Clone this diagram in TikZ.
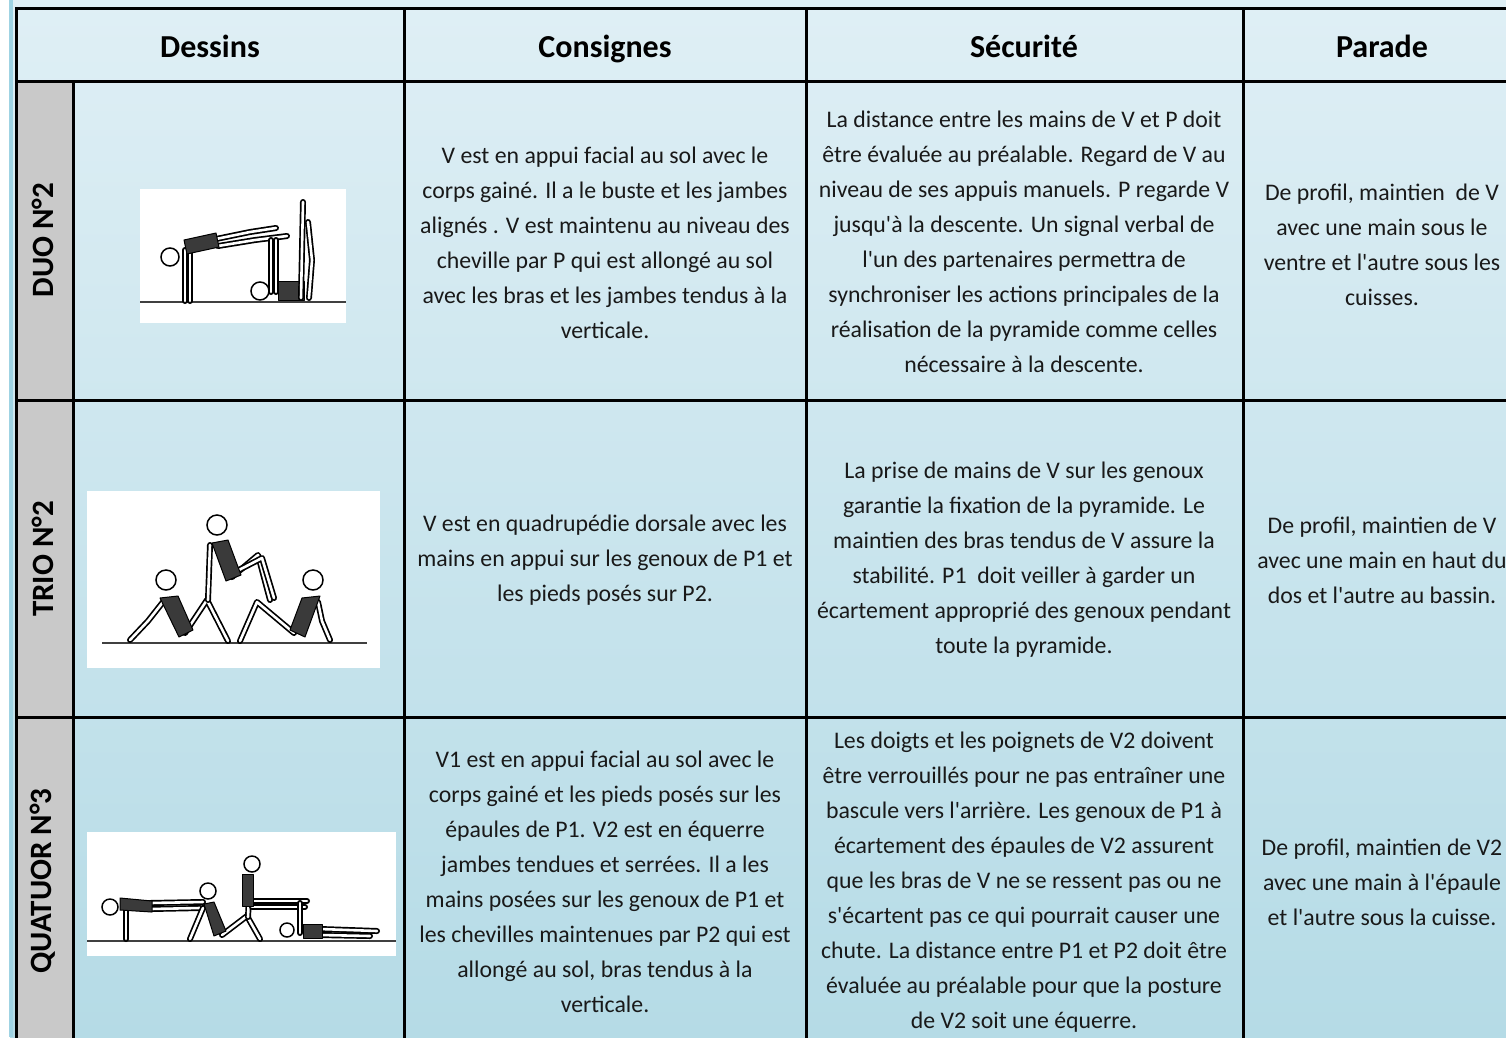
\documentclass[tikz,border=0pt]{standalone}
\usepackage{fontspec}
\setmainfont{Carlito}[Ligatures=TeXOff]
\definecolor{bgtop}{HTML}{DFEFF5}
\definecolor{bgbot}{HTML}{B5DBE6}
\definecolor{stripc}{HTML}{9FD3E3}
\definecolor{labgray}{HTML}{C9C9C9}
\definecolor{suit}{HTML}{3A3A3A}
\newcommand\lmb[1]{\draw[limbout] #1; \draw[limbin] #1;}
\tikzset{
  grid/.style={line width=3pt, black},
  body/.style={align=center, inner sep=0pt, text=black!90, font=\fontsize{23.8}{35}\selectfont},
  head/.style={anchor=base, inner sep=0pt, font=\bfseries\fontsize{32}{36}\selectfont},
  rowlab/.style={rotate=90, inner sep=0pt, font=\bfseries\fontsize{31}{36}\selectfont},
  photo/.style={fill=white, draw=none},
  ground/.style={line width=1.6pt, black!75},
  limbout/.style={line width=6pt, black, line cap=round, line join=round},
  limbin/.style={line width=2.6pt, white, line cap=round, line join=round},
  torso/.style={fill=suit, draw=black, line width=1pt, line join=round},
  headc/.style={fill=white, draw=black, line width=1.5pt}
}
\begin{document}
\begin{tikzpicture}[x=1pt,y=-1pt]
\useasboundingbox (0,0) rectangle (1506,1037);
% background
\shade[top color=bgtop, bottom color=bgbot] (10,0) rectangle (1506,1037);
\fill[stripc] (9,0) rectangle (13,1037);
\fill[labgray] (16,81) rectangle (73,1047);
% grid
\draw[grid] (16,1047) -- (16,8) -- (1530,8);
\draw[grid] (16,81) -- (1530,81);
\draw[grid] (16,400) -- (1530,400);
\draw[grid] (16,717) -- (1530,717);
\draw[grid] (73,81) -- (73,1047);
\draw[grid] (404,8) -- (404,1047);
\draw[grid] (806,8) -- (806,1047);
\draw[grid] (1243,8) -- (1243,1047);
% headers
\node[head] (h1) at (210,57) {Dessins};
\node[head] (h2) at (605,57) {Consignes};
\node[head] (h3) at (1024,57) {Sécurité};
\node[head] (h4) at (1382,57) {Parade};
% row labels
\node[rowlab] (l1) at (43,240) {DUO N°2};
\node[rowlab] (l2) at (43,559) {TRIO N°2};
\node[rowlab] (l3) at (43,881) {QUATUOR N°3};
% row 1 texts
\node[body] (c1) at (605,243) {V est en appui facial au sol avec le\\corps gainé. Il a le buste et les jambes\\alignés . V est maintenu au niveau des\\cheville par P qui est allongé au sol\\avec les bras et les jambes tendus à la\\verticale.};
\node[body] (s1) at (1024,242) {La distance entre les mains de V et P doit\\être évaluée au préalable. Regard de V au\\niveau de ses appuis manuels. P regarde V\\jusqu'à la descente. Un signal verbal de\\l'un des partenaires permettra de\\synchroniser les actions principales de la\\réalisation de la pyramide comme celles\\nécessaire à la descente.};
\node[body] (p1) at (1382,245) {De profil, maintien~ de V\\avec une main sous le\\ventre et l'autre sous les\\cuisses.};
% row 2 texts
\node[body] (c2) at (605,560) {V est en quadrupédie dorsale avec les\\mains en appui sur les genoux de P1 et\\les pieds posés sur P2.};
\node[body] (s2) at (1024,560) {La prise de mains de V sur les genoux\\garantie la fixation de la pyramide. Le\\maintien des bras tendus de V assure la\\stabilité. P1~ doit veiller à garder un\\écartement approprié des genoux pendant\\toute la pyramide.};
\node[body] (p2) at (1382,560) {De profil, maintien de V\\avec une main en haut du\\dos et l'autre au bassin.};
% row 3 texts
\node[body] (c3) at (605,882) {V1 est en appui facial au sol avec le\\corps gainé et les pieds posés sur les\\épaules de P1. V2 est en équerre\\jambes tendues et serrées. Il a les\\mains posées sur les genoux de P1 et\\les chevilles maintenues par P2 qui est\\allongé au sol, bras tendus à la\\verticale.};
\node[body] (s3) at (1024,882) {Les doigts et les poignets de V2 doivent\\être verrouillés pour ne pas entraîner une\\bascule vers l'arrière. Les genoux de P1 à\\écartement des épaules de V2 assurent\\que les bras de V ne se ressent pas ou ne\\s'écartent pas ce qui pourrait causer une\\chute. La distance entre P1 et P2 doit être\\évaluée au préalable pour que la posture\\de V2 soit une équerre.};
\node[body] (p3) at (1382,882) {De profil, maintien de V2\\avec une main à l'épaule\\et l'autre sous la cuisse.};
% ---------- drawing 1 : DUO ----------
\fill[photo] (140,189) rectangle (346,323);
\draw[ground] (140,302) -- (346,302);
\lmb{(185,250) -- (185,301)}
\lmb{(190,250) -- (190,301)}
\lmb{(216,239) -- (250,232) -- (276,228)}
\lmb{(218,246) -- (255,240) -- (287,236)}
\fill[torso] (184,240) -- (216,233) -- (219,247) -- (187,254) -- cycle;
\draw[headc] (170,257) circle (9);
\lmb{(271,240) -- (271,292)}
\lmb{(276,240) -- (276,292)}
\fill[torso] (278,281) -- (304,281) -- (304,300) -- (278,300) -- cycle;
\lmb{(301,298) -- (302,250) -- (303,202)}
\lmb{(309,298) -- (312,260) -- (308,222)}
\draw[headc] (260,291) circle (9);
% ---------- drawing 2 : TRIO ----------
\fill[photo] (87,491) rectangle (380,668);
\draw[ground] (102,643) -- (367,643);
\lmb{(163,602) -- (148,621) -- (130,640)}
\lmb{(185,633) -- (207,600) -- (228,641)}
\fill[torso] (160,598) -- (178,596) -- (193,630) -- (179,637) -- cycle;
\draw[headc] (166,580) circle (10);
\lmb{(318,602) -- (322,621) -- (330,640)}
\lmb{(294,633) -- (257,602) -- (240,641)}
\fill[torso] (302,598) -- (320,596) -- (305,637) -- (290,630) -- cycle;
\draw[headc] (313,580) circle (10);
\lmb{(210,545) -- (208,600)}
\lmb{(232,577) -- (258,555) -- (270,600)}
\lmb{(237,571) -- (262,558) -- (274,598)}
\fill[torso] (212,543) -- (228,540) -- (241,575) -- (226,581) -- cycle;
\draw[headc] (217,525) circle (10);
% ---------- drawing 3 : QUATUOR ----------
\fill[photo] (87,832) rectangle (396,956);
\draw[ground] (87,941) -- (396,941);
\lmb{(126,904) -- (126,939)}
\lmb{(150,903) -- (203,902)}
\lmb{(150,909) -- (200,908)}
\fill[torso] (120,898) -- (152,901) -- (152,912) -- (120,910) -- cycle;
\draw[headc] (110,907) circle (8);
\lmb{(203,908) -- (190,939)}
\lmb{(222,935) -- (247,916) -- (260,939)}
\fill[torso] (204,904) -- (214,902) -- (226,931) -- (214,936) -- cycle;
\draw[headc] (208,891) circle (8);
\lmb{(250,878) -- (248,917)}
\lmb{(250,901) -- (307,901)}
\lmb{(252,907) -- (305,907)}
\fill[torso] (242,874) -- (253,874) -- (253,906) -- (242,906) -- cycle;
\draw[headc] (252,864) circle (8);
\lmb{(300,933) -- (300,903)}
\lmb{(320,929) -- (377,931)}
\lmb{(320,935) -- (370,936)}
\fill[torso] (303,924) -- (322,924) -- (322,938) -- (303,938) -- cycle;
\draw[headc] (287,930) circle (7);
\end{tikzpicture}
\end{document}
